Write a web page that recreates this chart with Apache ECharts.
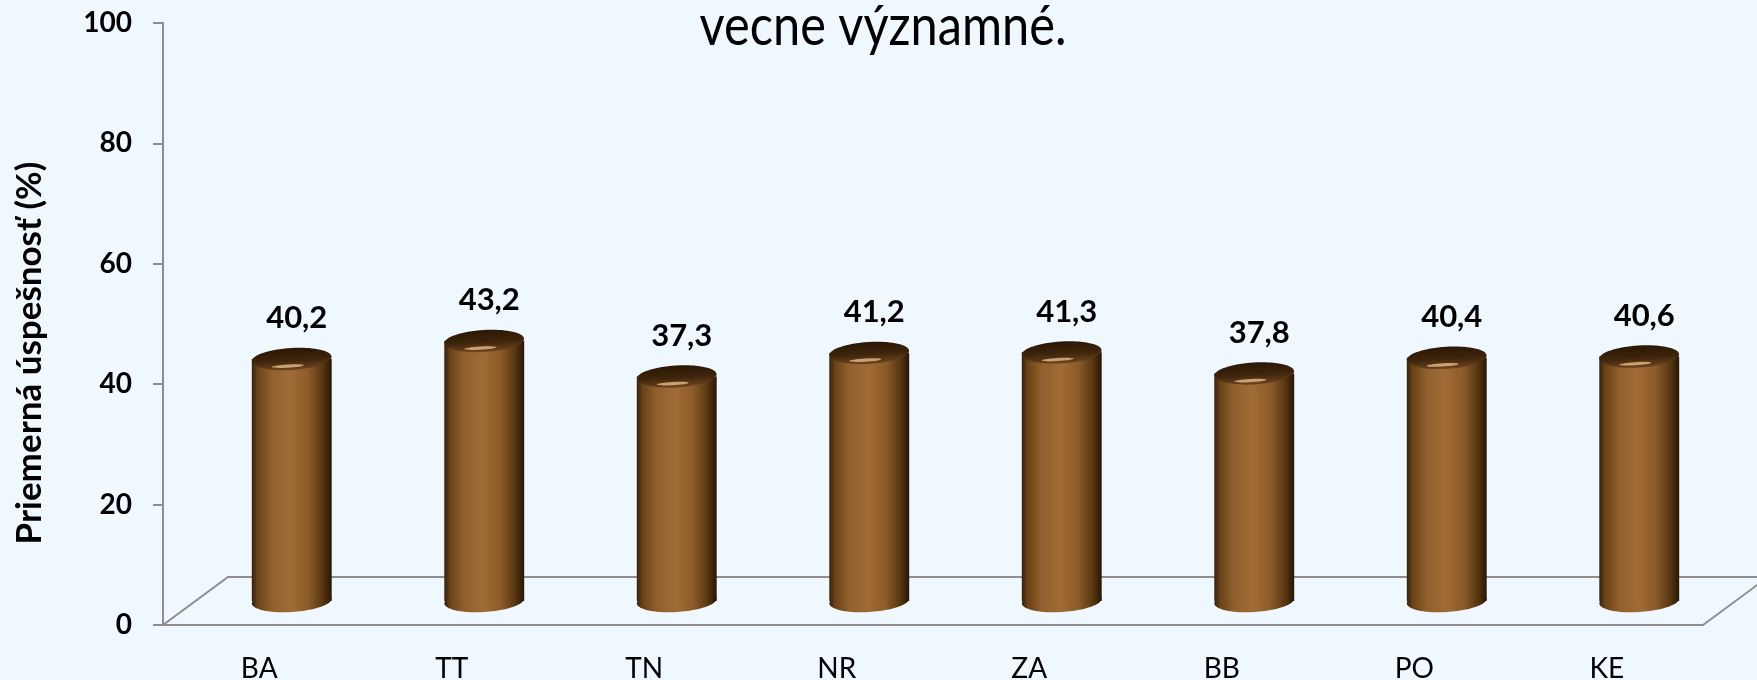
<!DOCTYPE html>
<html>
<head>
<meta charset="utf-8">
<title>Priemerná úspešnosť podľa krajov</title>
<script src="https://cdn.jsdelivr.net/npm/echarts@6/dist/echarts.min.js"></script>
<style>
  html, body { margin: 0; padding: 0; background: #eff7ff; }
  #chart { width: 1757px; height: 680px; }
</style>
</head>
<body>
<div id="chart"></div>
<script>
// data
const regions = ["BA", "TT", "TN", "NR", "ZA", "BB", "PO", "KE"];
const success = [40.2, 43.2, 37.3, 41.2, 41.3, 37.8, 40.4, 40.6];
const yMin = 0, yMax = 100, yStep = 20;
const titleText = "vecne významné.";
const yName = "Priemerná úspešnosť (%)";

// fake 3d depth of the floor (pixels)
const DX = 65, DY = 48;
const TILT = 0.06;
const FONT = "Lato, 'Open Sans', sans-serif";

const chart = echarts.init(document.getElementById("chart"));

function fmt(v) {
  return v.toFixed(1).replace(".", ",");
}

function renderFloor(params, api) {
  const cs = params.coordSys;
  const x0 = cs.x, x1 = cs.x + cs.width, y0 = cs.y + cs.height;
  return {
    type: "polyline",
    silent: true,
    shape: { points: [[x0, y0], [x0 + DX, y0 - DY], [x1 + DX, y0 - DY], [x1, y0]] },
    style: { stroke: "#8e8e8e", lineWidth: 2, fill: null }
  };
}

function renderCylinder(params, api) {
  const i = api.value(0), v = api.value(1);
  const top = api.coord([i, v]);
  const base = api.coord([i, 0]);
  const band = api.size([1, 0])[0];
  const w = band * 0.415, rx = w / 2, ry = 11;
  const cx = top[0] + DX / 2;
  const ty = top[1] - DY / 2, by = base[1] - DY / 2;

  const bodyFill = new echarts.graphic.LinearGradient(0, 0, 1, 0, [
    { offset: 0, color: "#35200b" },
    { offset: 0.07, color: "#6a4218" },
    { offset: 0.25, color: "#91602d" },
    { offset: 0.48, color: "#a06b36" },
    { offset: 0.7, color: "#8d5c2a" },
    { offset: 0.88, color: "#5a3813" },
    { offset: 1, color: "#281605" }
  ]);
  const topFill = new echarts.graphic.LinearGradient(0, 0, 0, 1, [
    { offset: 0, color: "#2a1704" },
    { offset: 0.55, color: "#3e250c" },
    { offset: 1, color: "#6d4520" }
  ]);

  return {
    type: "group",
    children: [
      { type: "ellipse", x: cx, y: by, rotation: TILT, shape: { cx: 0, cy: 0, rx: rx, ry: ry }, style: { fill: bodyFill } },
      { type: "rect", shape: { x: cx - rx, y: ty, width: w, height: by - ty }, style: { fill: bodyFill } },
      { type: "ellipse", x: cx, y: ty, rotation: TILT, shape: { cx: 0, cy: 0, rx: rx, ry: ry }, style: { fill: topFill } },
      { type: "ellipse", x: cx - 4, y: ty + ry * 0.65, rotation: TILT, shape: { cx: 0, cy: 0, rx: 16, ry: 1.6 }, style: { fill: "rgba(250,205,150,0.7)" } },
      {
        type: "text", x: cx + 5, y: ty - 25,
        style: { text: fmt(v), fontSize: 31, fontWeight: "bold", fontFamily: FONT, fill: "#000", align: "center", verticalAlign: "bottom" }
      }
    ]
  };
}

const option = {
  backgroundColor: "#eff7ff",
  animation: false,
  grid: { left: 163, right: 54, top: 23, bottom: 55, containLabel: false, outerBoundsMode: "none" },
  graphic: [{
    type: "text", x: 883, y: 27, scaleX: 0.87,
    style: { text: titleText, fontSize: 56, fontFamily: FONT, fill: "#000", align: "center", verticalAlign: "middle" }
  }],
  xAxis: {
    type: "category",
    data: regions,
    axisLine: { lineStyle: { color: "#8e8e8e", width: 2 } },
    axisTick: { show: false },
    axisLabel: { color: "#000", fontSize: 28, fontFamily: FONT, margin: 30 }
  },
  yAxis: {
    type: "value",
    min: yMin, max: yMax, interval: yStep,
    name: yName,
    nameLocation: "middle",
    nameGap: 116,
    nameTextStyle: { color: "#000", fontSize: 35, fontWeight: "bold", fontFamily: FONT, padding: [0, 58, 0, 0] },
    splitLine: { show: false },
    axisLine: { show: true, lineStyle: { color: "#8e8e8e", width: 2 } },
    axisTick: { show: true, length: 10, lineStyle: { color: "#8e8e8e", width: 2 } },
    axisLabel: { color: "#000", fontSize: 28, fontWeight: "bold", fontFamily: FONT, margin: 31 }
  },
  series: [
    { type: "custom", name: "floor", renderItem: renderFloor, data: [[0, 0]], z: 1, silent: true },
    { type: "custom", name: "Priemerná úspešnosť", renderItem: renderCylinder, data: success.map((v, i) => [i, v]), z: 3 }
  ]
};

chart.setOption(option);
</script>
</body>
</html>
